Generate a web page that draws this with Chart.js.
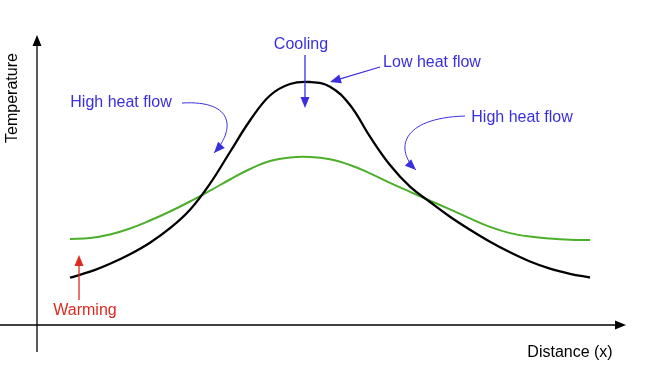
<!DOCTYPE html>
<html>
<head>
<meta charset="utf-8">
<script src="https://cdn.jsdelivr.net/npm/chart.js@4/dist/chart.umd.min.js"></script>
<style>
    body { margin: 0; background: #fff; }
    #wrap { width: 658px; height: 388px; }
</style>
</head>
<body>
<div id="wrap"><canvas id="heatChart"></canvas></div>
<script>
// Distance (x) and temperature, 1 unit ~ 10px of the original sketch
const distance = [3.3, 5.3, 7.3, 9.3, 11.3, 13.3, 15.3, 17.3, 19.3, 21.3, 23.3, 25.3, 27.3, 29.3, 31.3, 33.3, 35.3, 37.3, 39.3, 41.3, 43.3, 45.3, 47.3, 49.3, 51.3, 53.3, 55.3];
const tempBefore = [4.73, 5.33, 6.13, 7.08, 8.23, 9.68, 11.53, 14.13, 17.3, 20.45, 22.95, 24.1, 24.3, 23.83, 22.0, 18.83, 16.0, 13.83, 12.3, 10.83, 9.53, 8.33, 7.27, 6.35, 5.63, 5.12, 4.75];
const tempAfter = [8.6, 8.7, 9.05, 9.65, 10.45, 11.35, 12.35, 13.43, 14.55, 15.6, 16.4, 16.75, 16.8, 16.57, 16.0, 15.17, 14.22, 13.32, 12.44, 11.56, 10.66, 9.81, 9.19, 8.84, 8.64, 8.53, 8.5];

const labels = ['Cooling', 'Low heat flow', 'High heat flow', 'High heat flow', 'Warming'];

const BLUE = '#3a2fe0';
const RED = '#dd2a1f';

function arrowHead(ctx, fromX, fromY, toX, toY, color) {
    const a = Math.atan2(toY - fromY, toX - fromX);
    const len = 11, w = 4.5;
    ctx.save();
    ctx.fillStyle = color;
    ctx.beginPath();
    ctx.moveTo(toX, toY);
    ctx.lineTo(toX - len * Math.cos(a) + w * Math.sin(a), toY - len * Math.sin(a) - w * Math.cos(a));
    ctx.lineTo(toX - len * Math.cos(a) - w * Math.sin(a), toY - len * Math.sin(a) + w * Math.cos(a));
    ctx.closePath();
    ctx.fill();
    ctx.restore();
}

const sketchPlugin = {
    id: 'sketch',
    afterDatasetsDraw(chart) {
        const ctx = chart.ctx;
        const xs = chart.scales.x, ys = chart.scales.y;
        const X = v => xs.getPixelForValue(v);
        const Y = v => ys.getPixelForValue(v);

        function arrow(x1, y1, x2, y2, color, width) {
            const ax = X(x2), ay = Y(y2);
            const a = Math.atan2(ay - Y(y1), ax - X(x1));
            ctx.save();
            ctx.strokeStyle = color;
            ctx.lineWidth = width;
            ctx.beginPath();
            ctx.moveTo(X(x1), Y(y1));
            ctx.lineTo(ax - 8 * Math.cos(a), ay - 8 * Math.sin(a));
            ctx.stroke();
            ctx.restore();
            arrowHead(ctx, X(x1), Y(y1), ax, ay, color);
        }
        function curvedArrow(p0, c1, c2, p1, color) {
            ctx.save();
            ctx.strokeStyle = color;
            ctx.lineWidth = 1;
            ctx.beginPath();
            ctx.moveTo(X(p0[0]), Y(p0[1]));
            ctx.bezierCurveTo(X(c1[0]), Y(c1[1]), X(c2[0]), Y(c2[1]), X(p1[0]), Y(p1[1]));
            ctx.stroke();
            ctx.restore();
            arrowHead(ctx, X(c2[0]), Y(c2[1]), X(p1[0]), Y(p1[1]), color);
        }
        function text(str, x, y, color, rot) {
            ctx.save();
            ctx.fillStyle = color;
            ctx.font = '16px "Liberation Sans", Arial, sans-serif';
            ctx.textAlign = 'center';
            ctx.textBaseline = 'middle';
            ctx.translate(X(x), Y(y));
            if (rot) ctx.rotate(rot);
            ctx.fillText(str, 0, 0);
            ctx.restore();
        }

        // axes
        arrow(0, -2.7, 0, 29.0, '#000', 1.3);
        arrow(-3.7, 0, 58.9, 0, '#000', 1.3);
        text('Temperature', -2.4, 22.7, '#000', -Math.PI / 2);
        text('Distance (x)', 53.3, -2.8, '#000');

        // annotations
        text(labels[0], 26.4, 28.0, BLUE);
        arrow(26.8, 27.0, 26.8, 21.7, BLUE, 1.3);

        text(labels[1], 39.5, 26.2, BLUE);
        arrow(34.3, 25.8, 29.3, 24.3, BLUE, 1.3);

        text(labels[2], 8.4, 22.2, BLUE);
        curvedArrow([14.5, 22.2], [19.8, 22.5], [19.8, 19.5], [17.7, 17.2], BLUE);

        text(labels[3], 48.5, 20.7, BLUE);
        curvedArrow([42.8, 20.9], [36.3, 20.7], [35.8, 17.5], [37.9, 15.5], BLUE);

        text(labels[4], 4.8, 1.4, RED);
        arrow(4.2, 2.5, 4.2, 7.0, RED, 1.3);
    }
};

const ctx = document.getElementById('heatChart').getContext('2d');
new Chart(ctx, {
    type: 'line',
    data: {
        datasets: [
            {
                label: 'Before',
                data: distance.map((x, i) => ({ x: x, y: tempBefore[i] })),
                borderColor: '#000',
                borderWidth: 2.3,
                pointRadius: 0,
                tension: 0.4,
                fill: false
            },
            {
                label: 'After',
                data: distance.map((x, i) => ({ x: x, y: tempAfter[i] })),
                borderColor: '#4caf2a',
                borderWidth: 2,
                pointRadius: 0,
                tension: 0.4,
                fill: false
            }
        ]
    },
    options: {
        responsive: true,
        maintainAspectRatio: false,
        animation: false,
        layout: { padding: 0 },
        plugins: {
            legend: { display: false },
            tooltip: { enabled: false }
        },
        scales: {
            x: { type: 'linear', min: -3.7, max: 62.1, display: false },
            y: { type: 'linear', min: -6.3, max: 32.5, display: false }
        }
    },
    plugins: [sketchPlugin]
});
</script>
</body>
</html>
